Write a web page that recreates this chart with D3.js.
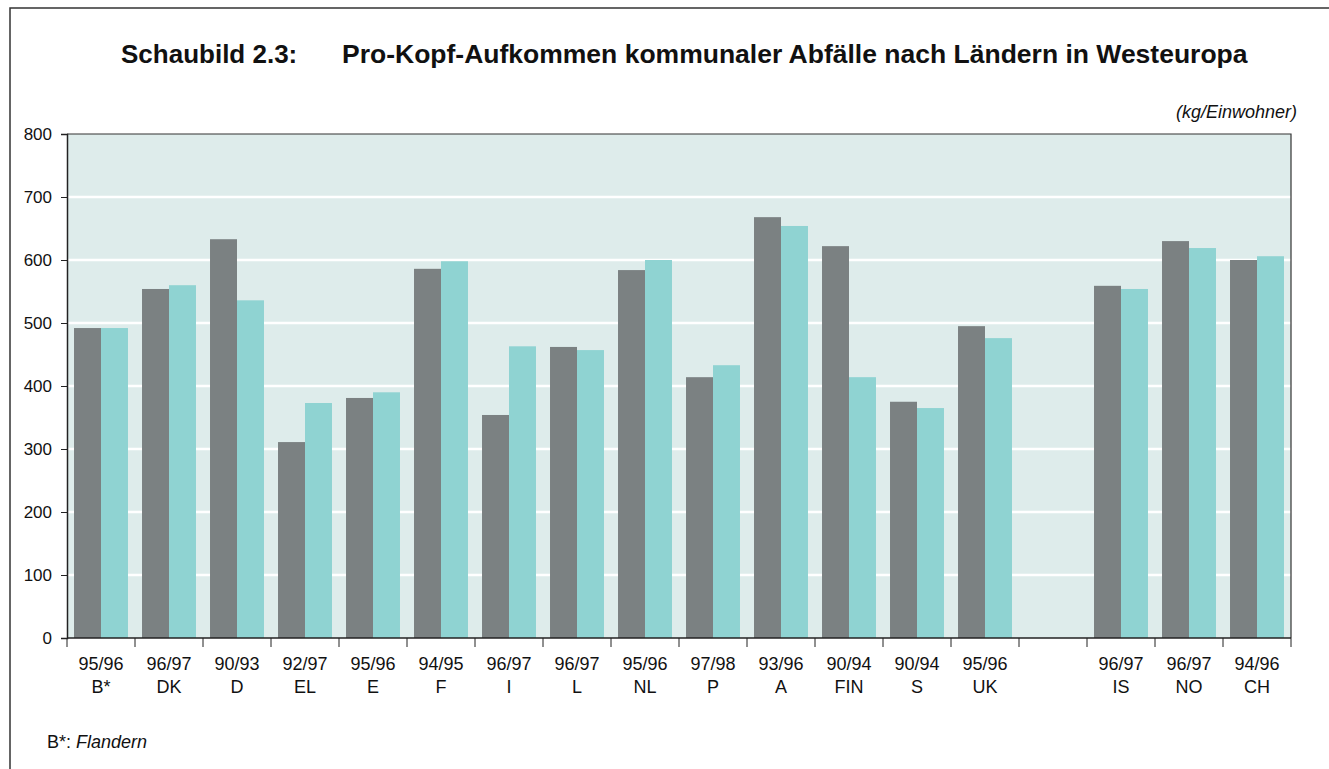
<!DOCTYPE html>
<html>
<head>
<meta charset="utf-8">
<script src="https://cdn.jsdelivr.net/npm/d3@7"></script>
<style>
  body { margin: 0; background: #fff; }
  text { font-family: "Liberation Sans", Arial, sans-serif; fill: #111; }
</style>
</head>
<body>
<div id="chart"></div>
<script>
// Countries (one empty slot between UK and IS), survey years, values in kg per inhabitant
const countries = ["B*", "DK", "D", "EL", "E", "F", "I", "L", "NL", "P", "A", "FIN", "S", "UK", "", "IS", "NO", "CH"];
const years = ["95/96", "96/97", "90/93", "92/97", "95/96", "94/95", "96/97", "96/97", "95/96", "97/98", "93/96", "90/94", "90/94", "95/96", "", "96/97", "96/97", "94/96"];
const firstYear = [492, 554, 633, 311, 381, 586, 354, 462, 584, 414, 668, 622, 375, 495, null, 559, 630, 600];
const secondYear = [492, 560, 536, 373, 390, 598, 463, 457, 600, 433, 654, 414, 365, 476, null, 554, 619, 606];
const yTicks = [0, 100, 200, 300, 400, 500, 600, 700, 800];

const W = 1329, H = 769;
const margin = { top: 134, right: 38, bottom: 131, left: 67 };
const width = W - margin.left - margin.right;
const height = H - margin.top - margin.bottom;

const svg = d3.select("#chart").append("svg")
    .attr("width", W)
    .attr("height", H);

// Outer frame (left and top only visible)
svg.append("path")
    .attr("d", `M10,${H} L10,8 L${W},8`)
    .attr("fill", "none")
    .attr("stroke", "#333")
    .attr("stroke-width", 1.5);

// Title
svg.append("text").attr("x", 121).attr("y", 63)
    .style("font-size", "26px").style("font-weight", "bold")
    .text("Schaubild 2.3:");
svg.append("text").attr("x", 342).attr("y", 63)
    .style("font-size", "26.5px").style("font-weight", "bold")
    .text("Pro-Kopf-Aufkommen kommunaler Abfälle nach Ländern in Westeuropa");

// Unit
svg.append("text").attr("x", 1297).attr("y", 118)
    .attr("text-anchor", "end")
    .style("font-size", "18px").style("font-style", "italic")
    .text("(kg/Einwohner)");

const g = svg.append("g").attr("transform", `translate(${margin.left},${margin.top})`);

const x = d3.scaleBand().domain(d3.range(countries.length)).range([0, width]);
const xSub = d3.scaleBand().domain([0, 1]).range([0, x.bandwidth()]).paddingOuter(0.26);
const y = d3.scaleLinear().domain([0, 800]).range([height, 0]);

// Plot background
g.append("rect")
    .attr("width", width).attr("height", height)
    .attr("fill", "#deeceb");

// Gridlines
g.selectAll(".grid").data(yTicks.filter(d => d > 0 && d < 800))
    .enter().append("line")
    .attr("x1", 0).attr("x2", width)
    .attr("y1", d => y(d)).attr("y2", d => y(d))
    .attr("stroke", "#fff").attr("stroke-width", 2.5);

// Bars
const series = [firstYear, secondYear];
const colors = ["#7b8182", "#8fd3d2"];
series.forEach((vals, s) => {
    g.selectAll(".bar" + s).data(vals.map((v, i) => ({ v, i })).filter(d => d.v != null))
        .enter().append("rect")
        .attr("x", d => x(d.i) + xSub(s))
        .attr("width", xSub.bandwidth())
        .attr("y", d => y(d.v))
        .attr("height", d => height - y(d.v))
        .attr("fill", colors[s]);
});

// Plot border top and right
g.append("path")
    .attr("d", `M0,0 L${width},0 L${width},${height}`)
    .attr("fill", "none").attr("stroke", "#333").attr("stroke-width", 1.2);

// Y axis
const yAxis = g.append("g")
    .call(d3.axisLeft(y).tickValues(yTicks).tickSize(6).tickPadding(9));
yAxis.select(".domain").attr("stroke", "#222").attr("stroke-width", 1.5);
yAxis.selectAll(".tick line").attr("stroke", "#222");
yAxis.selectAll("text").style("font-size", "17px").attr("fill", "#111");

// X axis: line plus ticks at band boundaries
const xAxis = g.append("g").attr("transform", `translate(0,${height})`);
xAxis.append("line").attr("x1", 0).attr("x2", width)
    .attr("stroke", "#222").attr("stroke-width", 1.5);
const bounds = d3.range(countries.length + 1).map(i => i < countries.length ? x(i) : width);
xAxis.selectAll(".xtick").data(bounds).enter().append("line")
    .attr("x1", d => d).attr("x2", d => d)
    .attr("y1", 0).attr("y2", 9)
    .attr("stroke", "#222");

const labels = xAxis.selectAll(".xlabel").data(d3.range(countries.length))
    .enter().append("text")
    .attr("text-anchor", "middle")
    .attr("transform", i => `translate(${x(i) + x.bandwidth() / 2},0)`)
    .style("font-size", "18px");
labels.append("tspan").attr("x", 0).attr("y", 32).text(i => years[i]);
labels.append("tspan").attr("x", 0).attr("y", 55).text(i => countries[i]);

// Footnote
const note = svg.append("text").attr("x", 47).attr("y", 748).style("font-size", "18px");
note.append("tspan").text("B*: ");
note.append("tspan").style("font-style", "italic").text("Flandern");
</script>
</body>
</html>
